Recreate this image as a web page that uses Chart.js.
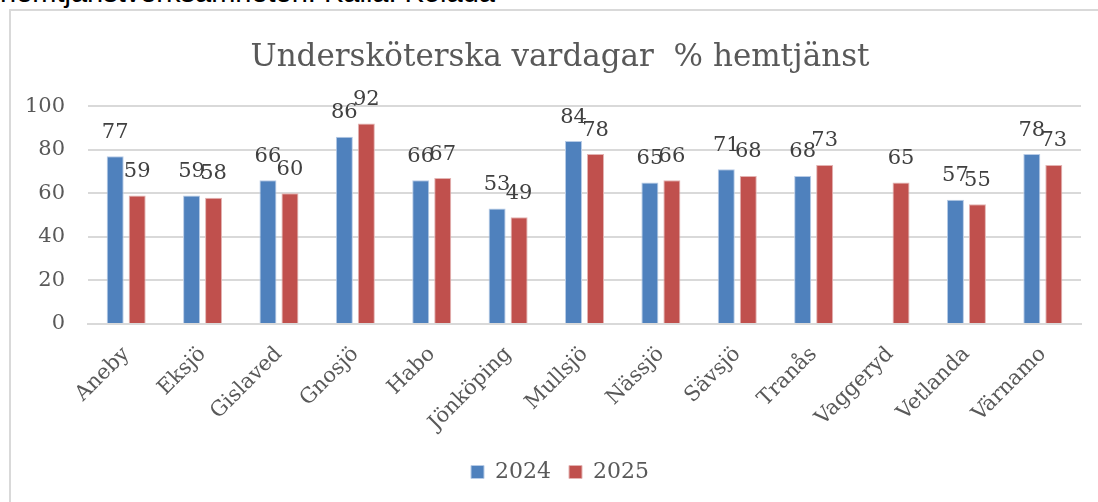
<!DOCTYPE html>
<html>
<head>
<meta charset="utf-8">
<script src="https://cdn.jsdelivr.net/npm/chart.js@4"></script>
<style>
  body { margin: 0; overflow: hidden; background: #fff; }
  #wrap { position: relative; width: 1098px; height: 502px; overflow: hidden; }
  #source { position: absolute; left: 0; top: -22px; font: 29px "Liberation Sans", Arial, sans-serif; line-height: 29px; color: #000; white-space: nowrap; }
  #frame { position: absolute; left: 9px; top: 9px; width: 1200px; height: 600px; border: 2px solid #d9d9d9; }
  #myChart { position: absolute; left: 0; top: 0; }
</style>
</head>
<body>
<div id="wrap">
  <div id="source">hemtjänstverksamheten. Källa: Kolada</div>
  <div id="frame"></div>
  <canvas id="myChart" width="1098" height="502"></canvas>
</div>
<script>
let kommuner = ["Aneby", "Eksjö", "Gislaved", "Gnosjö", "Habo", "Jönköping", "Mullsjö", "Nässjö", "Sävsjö", "Tranås", "Vaggeryd", "Vetlanda", "Värnamo"];
let values2024 = [77, 59, 66, 86, 66, 53, 84, 65, 71, 68, null, 57, 78];
let values2025 = [59, 58, 60, 92, 67, 49, 78, 66, 68, 73, 65, 55, 73];
let yTicks = [0, 20, 40, 60, 80, 100];

let serif = "'DejaVu Serif', serif";

// value labels above each bar, like Excel "outside end"
let barLabels = {
  id: "barLabels",
  afterDatasetsDraw: (chart) => {
    let ctx = chart.ctx;
    ctx.save();
    ctx.font = "21px " + serif;
    ctx.fillStyle = "#404040";
    ctx.textAlign = "center";
    ctx.textBaseline = "middle";
    chart.data.datasets.forEach((ds, i) => {
      chart.getDatasetMeta(i).data.forEach((bar, j) => {
        if (ds.data[j] == null) return;
        ctx.fillText(ds.data[j], bar.x, bar.y - 24);
      });
    });
    ctx.restore();
  }
};

onWindowLoad = () => {
  Chart.defaults.font.family = serif;
  Chart.defaults.color = "#595959";
  let ctx = document.getElementById("myChart").getContext("2d");
  let myChart = new Chart(ctx, {
    type: "bar",
    data: {
      labels: kommuner,
      datasets: [
        {
          label: "2024",
          data: values2024,
          backgroundColor: "#4F81BD",
          borderColor: "#b7cbe6",
          borderWidth: 1,
          categoryPercentage: 0.576,
          barPercentage: 0.773
        },
        {
          label: "2025",
          data: values2025,
          backgroundColor: "#C0504D",
          borderColor: "#e3b3b2",
          borderWidth: 1,
          categoryPercentage: 0.576,
          barPercentage: 0.773
        }
      ]
    },
    options: {
      responsive: false,
      animation: false,
      layout: { padding: { left: 22, right: 0, top: 0, bottom: 9 } },
      plugins: {
        title: {
          display: true,
          text: "Undersköterska vardagar  % hemtjänst",
          color: "#595959",
          font: { size: 31, weight: "normal", lineHeight: 1.2 },
          padding: { top: 39, bottom: 30 }
        },
        legend: {
          position: "bottom",
          labels: {
            boxWidth: 13,
            boxHeight: 13,
            padding: 18,
            color: "#595959",
            font: { size: 22 }
          }
        },
        tooltip: { enabled: false }
      },
      scales: {
        x: {
          grid: { display: false },
          border: { display: true, color: "#d9d9d9", width: 2 },
          ticks: {
            color: "#595959",
            font: { size: 21 },
            maxRotation: 45,
            minRotation: 45,
            padding: 10
          },
          afterFit: (scale) => { scale.height = 119; }
        },
        y: {
          min: 0,
          max: 100,
          afterBuildTicks: (scale) => { scale.ticks = yTicks.map((v) => ({ value: v })); },
          grid: { color: "#d9d9d9", lineWidth: 2, drawTicks: false },
          border: { display: false },
          ticks: { color: "#595959", font: { size: 21 }, padding: 23 },
          afterFit: (scale) => { scale.width = 66; }
        },
        // empty axis on the right, only keeps the plot edge off the frame
        spacer: {
          position: "right",
          grid: { display: false },
          border: { display: false },
          ticks: { display: false },
          afterFit: (scale) => { scale.width = 17; }
        }
      }
    },
    plugins: [barLabels]
  });
};

window.onload = onWindowLoad;
</script>
</body>
</html>
